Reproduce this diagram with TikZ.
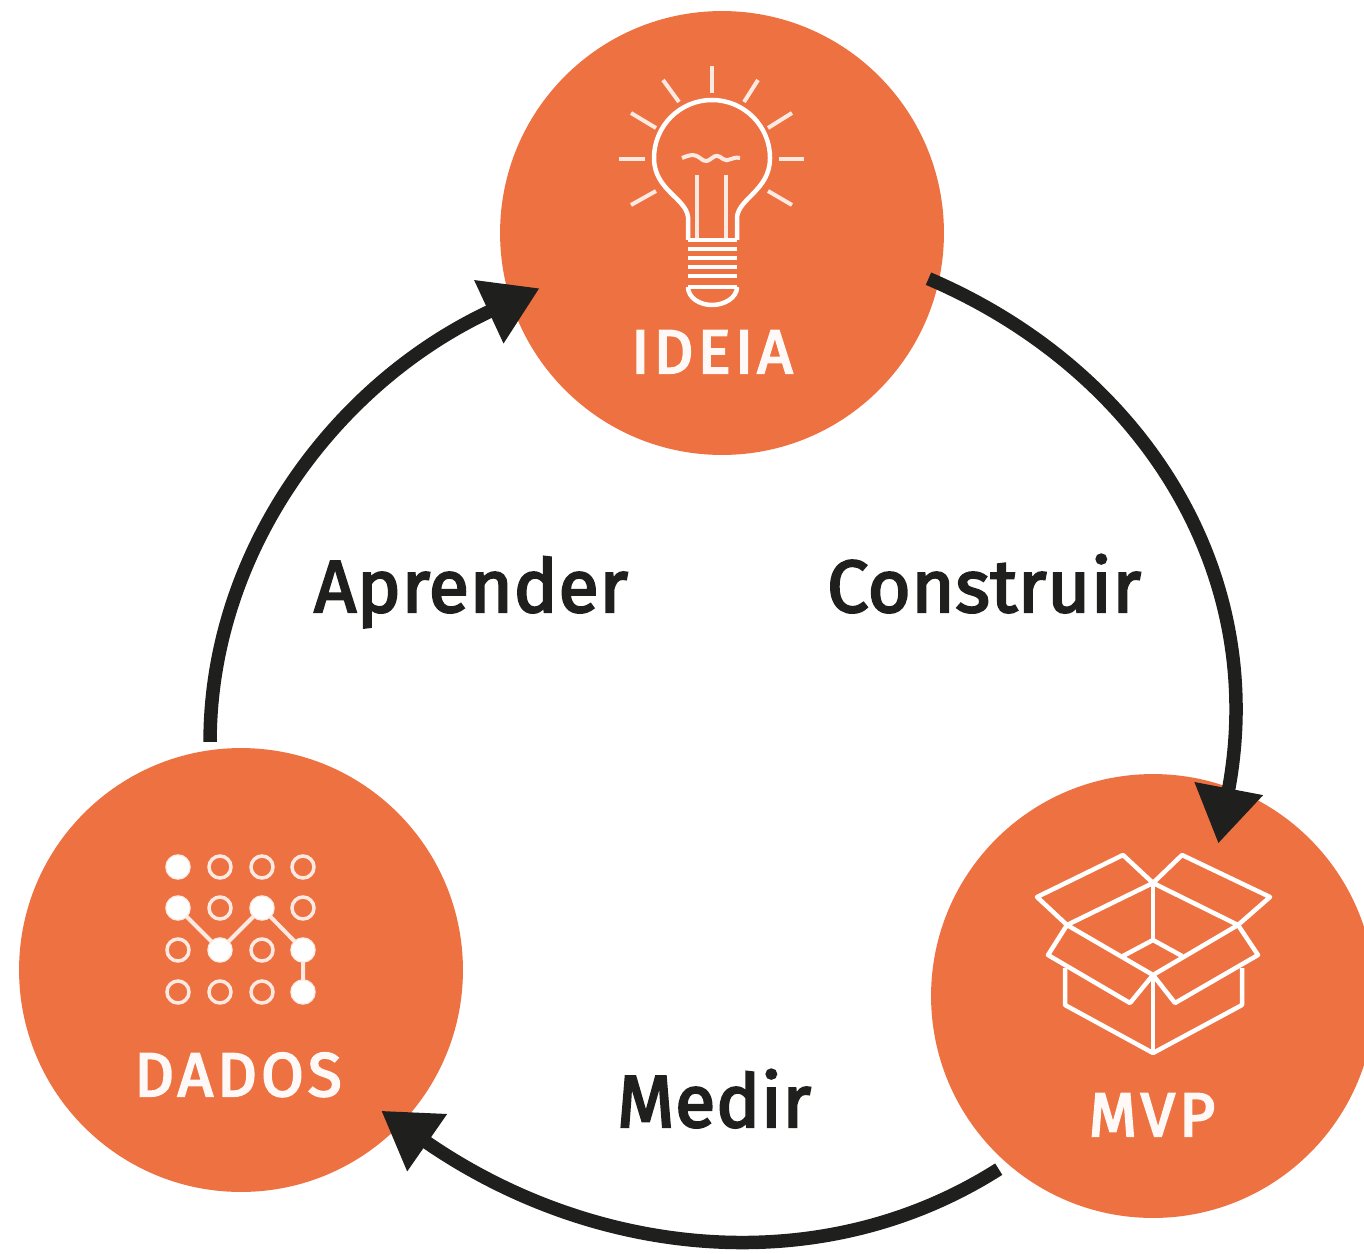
\documentclass[tikz,border=0pt]{standalone}
\usepackage{fontspec}
\setmainfont{Fira Sans}
\newfontfamily\titulofont{Fira Sans}[FakeBold=3.5,LetterSpace=7]
\newfontfamily\rotulofont{Fira Sans}[FakeBold=3,LetterSpace=1]
\usetikzlibrary{arrows.meta}
\definecolor{laranja}{HTML}{EE7141}
\definecolor{escuro}{HTML}{1F1F1E}

\begin{document}
\begin{tikzpicture}
[x=0.02cm,y=-0.02cm,>={Triangle[length=1.12cm,width=1.32cm]},
etapa/.style={circle,fill=laranja,inner sep=0pt,minimum size=8.88cm},
seta/.style={->,draw=escuro,line width=0.27cm},
icone/.style={draw=white,line width=0.09cm,line join=round},
raio/.style={draw=white!85!laranja,line width=0.08cm},
titulo/.style={anchor=base,text=white!95!laranja,font=\fontsize{35}{35}\selectfont\titulofont},
rotulo/.style={anchor=base,text=escuro,font=\fontsize{42}{42}\selectfont\rotulofont},
cheio/.style={circle,fill=white,inner sep=0pt,minimum size=0.46cm},
vazio/.style={circle,draw=white!85!laranja,line width=0.07cm,inner sep=0pt,minimum size=0.44cm}]

\useasboundingbox (0,0) rectangle (1364,1253);

% the three circles
\node[etapa] (ideia) at (722,233) {};
\node[etapa] (mvp) at (1153,996) {};
\node[etapa] (dados) at (241,970) {};

% the arrows of the cycle
\draw[seta,shorten <=-0.22cm,shorten >=-1.15cm] (ideia.-13) .. controls (1142,370) and (1270,572) .. (mvp.70);
\draw[seta,shorten <=0.2cm,shorten >=-0.48cm] (mvp.229) .. controls (818,1284) and (590,1256) .. (dados.-44);
\draw[seta,shorten <=0.16cm,shorten >=-0.64cm] (dados.98) .. controls (210,554) and (333,384) .. (ideia.198);

% the labels
\node[titulo] (tideia) at (712,373) {IDEIA};
\node[titulo] (tmvp) at (1152,1136) {MVP};
\node[titulo] (tdados) at (238,1096) {DADOS};
\node[rotulo] (construir) at (984,612) {Construir};
\node[rotulo] (medir) at (714,1127) {Medir};
\node[rotulo] (aprender) at (471,612) {Aprender};

% the lamp
\draw[icone] (688,240) -- (688,217) .. controls (686,198) and (654,190) .. (654,158)
  arc[start angle=180,end angle=360,radius=58]
  .. controls (770,190) and (739,198) .. (737,217) -- (737,240);
\draw[icone] (688,287) .. controls (688,298) and (700,305) .. (712,305) .. controls (724,305) and (737,298) .. (737,287);
\foreach \y in {240,249,258,267,276,287}
  \draw[icone] (688,\y) -- (737,\y);
\draw[raio] (697,175) -- (697,238);
\draw[raio] (726,175) -- (726,238);
\draw[raio] (682,158) .. controls (692,154) and (694,154) .. (700,158) .. controls (706,163) and (708,161) .. (712,158)
  .. controls (716,155) and (718,155) .. (723,159) .. controls (728,163) and (732,156) .. (740,158);
\draw[raio] (712,66) -- (712,93);
\draw[raio] (663,80) -- (679,102);
\draw[raio] (758,80) -- (744,102);
\draw[raio] (631,113) -- (656,128);
\draw[raio] (792,113) -- (768,128);
\draw[raio] (619,159) -- (645,159);
\draw[raio] (779,159) -- (804,159);
\draw[raio] (631,205) -- (656,191);
\draw[raio] (792,205) -- (768,191);

% the box
\draw[icone] (1153,883) -- (1123,855) -- (1037,897) -- (1067,925) -- (1153,883);
\draw[icone] (1153,883) -- (1182,855) -- (1270,897) -- (1238,925) -- (1153,883);
\draw[icone] (1067,925) -- (1153,975) -- (1238,925);
\draw[icone] (1123,956) -- (1153,940) -- (1182,956);
\draw[icone] (1153,883) -- (1153,940);
\draw[icone] (1067,925) -- (1048,955) -- (1130,1003) -- (1153,975) -- (1175,1003) -- (1258,955) -- (1238,925);
\draw[icone] (1065,968) -- (1065,1005) -- (1153,1053) -- (1242,1005) -- (1242,968);
\draw[icone] (1153,975) -- (1153,1053);

% the data grid
\foreach \i/\px in {0/178,1/220,2/262,3/303}
  \foreach \j/\py in {0/867,1/908,2/950,3/992}
    \node[vazio] (g\i\j) at (\px,\py) {};
\node[cheio] (c00) at (178,867) {};
\node[cheio] (c01) at (178,908) {};
\node[cheio] (c12) at (220,950) {};
\node[cheio] (c21) at (262,908) {};
\node[cheio] (c32) at (303,950) {};
\node[cheio] (c33) at (303,992) {};
\draw[raio] (c01) -- (c12) -- (c21) -- (c32) -- (c33);

\end{tikzpicture}
\end{document}
